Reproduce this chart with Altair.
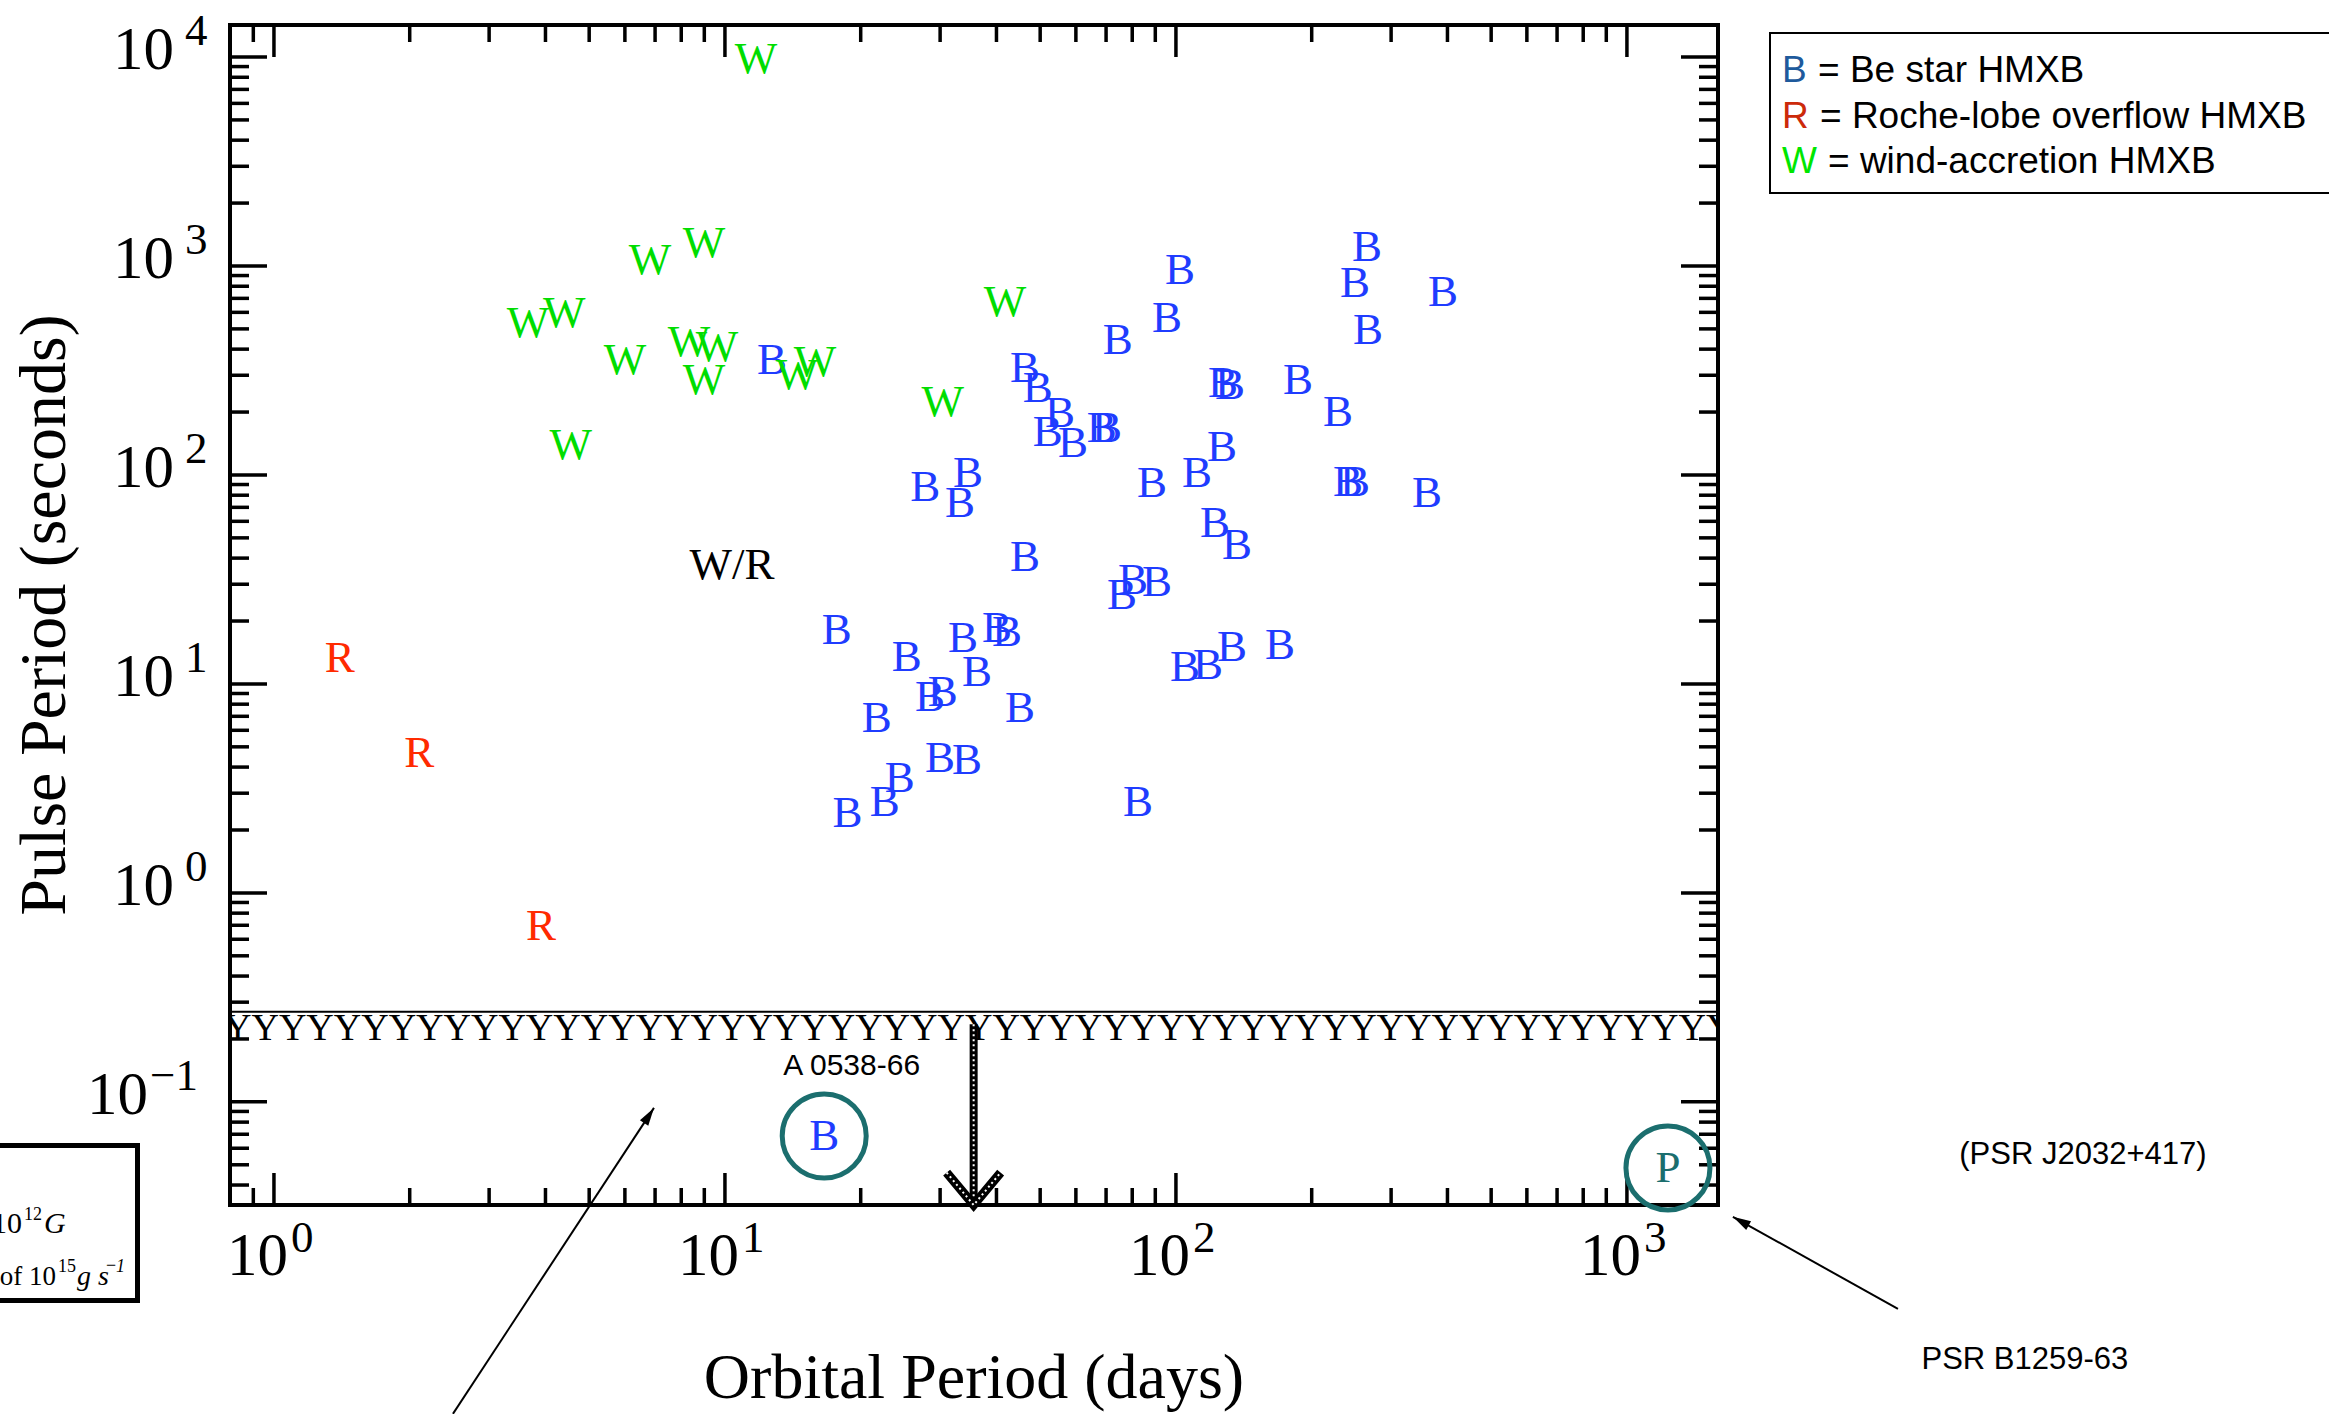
import altair as alt
import pandas as pd

# ---------------- data ----------------
be_orbit = [12.71, 102.1, 95.5, 74.3, 46.3, 49.4, 55.3, 52.0, 59.1, 68.5, 70.3,
            127.1, 131.8, 126.5, 111.3, 88.5, 27.8, 34.6, 33.2, 265.2, 249.4,
            390.8, 266.6, 186.4, 228.7, 240.6, 249.4, 360.3, 46.3, 122.0, 136.6,
            75.9, 80.3, 90.8, 17.7, 25.3, 33.7, 40.1, 42.2, 36.2, 28.5, 30.4,
            45.1, 21.7, 30.0, 34.4, 24.4, 22.6, 18.7, 82.4, 104.7, 117.8, 133.1, 170.1]
be_pulse = [354.9, 957, 564, 442, 325, 260.9, 198, 160.6, 142.3, 167.9, 167.9,
            275.5, 269.5, 136.2, 102.2, 91.5, 87.6, 102.2, 73.5, 1233, 829,
            750.9, 494, 284.7, 200.2, 92.6, 92.6, 82.0, 40.5, 58.9, 46.3,
            26.7, 31.4, 30.8, 18.1, 13.5, 16.6, 18.5, 17.7, 11.4, 8.67, 9.16,
            7.68, 6.88, 4.43, 4.33, 3.55, 2.73, 2.41, 2.73, 12.06, 12.33, 15.03, 15.37]
wind_orbit = [11.72, 6.82, 8.98, 3.66, 4.40, 6.00, 8.32, 9.60, 8.98, 4.55, 14.44, 15.83, 41.77, 30.4]
wind_pulse = [9782, 1068, 1288, 533.8, 595.8, 354.9, 432.9, 409.6, 284.7, 139.2, 301, 347.3, 672.7, 223.6]
roche_orbit = [1.40, 2.10, 3.91]
roche_pulse = [13.3, 4.68, 0.695]

special_class = ["B", "P"]
special_orbit = [16.6, 1233]
special_pulse = [0.0687, 0.0483]

label_wr = ["W/R"]
label_wr_orbit = [10.37]
label_wr_pulse = [37.1]

a0538_label = ["A 0538-66"]
a0538_orbit = [19.1]
a0538_pulse = [0.1487]

band_lo = [0.198]
band_hi = [0.27]
limit_orbit = [35.6]
limit_top = [0.235]
limit_bottom = [0.0321]

ann_labels = ["(PSR J2032+417)", "PSR B1259-63"]
ann_orbit = [10258, 7629]
ann_pulse = [0.0558, 0.00583]

arrow1_from = (3990, 0.01022)   # PSR B1259-63 pointer
arrow1_to = (1718, 0.02818)
arrow2_from = (2.494, 0.003215)  # pointer from the lower-left box
arrow2_to = (6.96, 0.0936)

legend_letters = ["B", "R", "W"]
legend_text = ["= Be star HMXB", "= Roche-lobe overflow HMXB", "= wind-accretion HMXB"]

x_decades = [1, 10, 100, 1000]
x_exps = [0, 1, 2, 3]
y_decades = [0.1, 1, 10, 100, 1000, 10000]
y_exps = [-1, 0, 1, 2, 3, 4]

x_minor = [0.9] + [m * 10 ** e for e in range(0, 3) for m in range(2, 10)]
y_minor = [m * 10.0 ** e for e in range(-2, 4) for m in range(2, 10)]
y_minor = [v for v in y_minor if 0.0321 < v < 14230]

# ---------------- layout ----------------
W, H = 1488, 1180
SERIF = "Liberation Serif"
SANS = "Liberation Sans"
classes = ["B", "R", "W", "P"]
class_colors = ["#1f3cff", "#ff2a00", "#00dd00", "#1b6e6e"]
legend_colors = ["#1e5a9c", "#cc2a0a", "#00e600"]

xs = alt.Scale(type="log", domain=[0.799, 1592], nice=False)
ys = alt.Scale(type="log", domain=[0.0321, 14230], nice=False)
cs = alt.Scale(domain=classes, range=class_colors)


def X(f):
    return alt.X(f, type="quantitative", scale=xs, axis=None)


def Y(f):
    return alt.Y(f, type="quantitative", scale=ys, axis=None)


one = pd.DataFrame({"k": [0]})
layers = []

# hatched band
band_df = pd.DataFrame({"lo": band_lo, "hi": band_hi})
layers.append(alt.Chart(band_df).mark_rule(color="black", strokeWidth=2).encode(
    x=alt.value(0), x2=alt.value(W), y=Y("hi")))
layers.append(alt.Chart(band_df).mark_text(
    font=SERIF, fontSize=38, align="left", baseline="alphabetic", clip=True, color="black"
).encode(x=alt.value(-6), y=Y("lo"), text=alt.value("Y" * 80)))

# ticks
xmaj = pd.DataFrame({"v": x_decades})
xmin = pd.DataFrame({"v": x_minor})
ymaj = pd.DataFrame({"v": y_decades})
ymin = pd.DataFrame({"v": y_minor})
tk = dict(color="black", strokeWidth=3.5)
for df, ln in [(xmaj, 32), (xmin, 17)]:
    layers.append(alt.Chart(df).mark_rule(**tk).encode(x=X("v"), y=alt.value(H), y2=alt.value(H - ln)))
    layers.append(alt.Chart(df).mark_rule(**tk).encode(x=X("v"), y=alt.value(0), y2=alt.value(ln)))
for df, ln in [(ymaj, 37), (ymin, 19)]:
    layers.append(alt.Chart(df).mark_rule(**tk).encode(y=Y("v"), x=alt.value(0), x2=alt.value(ln)))
    layers.append(alt.Chart(df).mark_rule(**tk).encode(y=Y("v"), x=alt.value(W), x2=alt.value(W - ln)))

# tick labels
xlab = pd.DataFrame({"v": x_decades, "n": x_exps})
layers.append(alt.Chart(xlab).mark_text(font=SERIF, fontSize=61, align="right", baseline="middle", dx=14).encode(
    x=X("v"), y=alt.value(1232), text=alt.value("10")))
layers.append(alt.Chart(xlab).transform_calculate(e="''+datum.n").mark_text(
    font=SERIF, fontSize=45, align="left", baseline="middle", dx=17).encode(
    x=X("v"), y=alt.value(1213), text="e:N"))
ylab = pd.DataFrame({"v": y_decades, "n": y_exps})
ypos = alt.Chart(ylab).transform_filter("datum.n >= 0")
yneg = alt.Chart(ylab).transform_filter("datum.n < 0")
for base, x10, xe in [(ypos, -56, -45), (yneg, -82, -80)]:
    layers.append(base.mark_text(font=SERIF, fontSize=61, align="right", baseline="middle", dy=-6).encode(
        x=alt.value(x10), y=Y("v"), text=alt.value("10")))
    layers.append(base.transform_calculate(e="replace(''+datum.n, '-', '\u2212')").mark_text(
        font=SERIF, fontSize=45, align="left", baseline="middle", dy=-26).encode(
        x=alt.value(xe), y=Y("v"), text="e:N"))

# axis titles
layers.append(alt.Chart(one).mark_text(font=SERIF, fontSize=64, align="center", baseline="middle",
                                       text="Orbital Period (days)").encode(x=alt.value(744), y=alt.value(1354)))
layers.append(alt.Chart(one).mark_text(font=SERIF, fontSize=66, align="center", baseline="middle", angle=270,
                                       text="Pulse Period (seconds)").encode(x=alt.value(-185), y=alt.value(590)))

# upper-limit arrow
lim = pd.DataFrame({"x": limit_orbit, "y1": limit_top, "y2": limit_bottom})
layers.append(alt.Chart(lim).mark_rule(color="black", strokeWidth=8).encode(x=X("x"), y=Y("y1"), y2=alt.Y2("y2")))
layers.append(alt.Chart(lim).mark_rule(color="white", strokeWidth=2, strokeDash=[2, 3]).encode(
    x=X("x"), y=Y("y1"), y2=alt.Y2("y2")))
layers.append(alt.Chart(lim).mark_point(shape="M-1,-1.2L0,0L1,-1.2", size=2916, filled=False, stroke="black",
                                        strokeWidth=9, opacity=1).encode(x=X("x"), y=Y("y2")))
layers.append(alt.Chart(lim).mark_point(shape="M-1,-1.2L0,0L1,-1.2", size=2916, filled=False, stroke="white",
                                        strokeWidth=2, strokeDash=[2, 3], opacity=1).encode(x=X("x"), y=Y("y2")))

# circled special systems
spec = pd.DataFrame({"orbit": special_orbit, "pulse": special_pulse, "cls": special_class})
layers.append(alt.Chart(spec).mark_point(shape="circle", size=7056, filled=False, stroke="#1b6e6e",
                                         strokeWidth=5, opacity=1).encode(x=X("orbit"), y=Y("pulse")))

# letters
pts = pd.DataFrame({
    "orbit": be_orbit + wind_orbit + roche_orbit + special_orbit,
    "pulse": be_pulse + wind_pulse + roche_pulse + special_pulse,
    "cls": ["B"] * len(be_orbit) + ["W"] * len(wind_orbit) + ["R"] * len(roche_orbit) + special_class,
})
layers.append(alt.Chart(pts).mark_text(font=SERIF, fontSize=45, align="center", baseline="middle").encode(
    x=X("orbit"), y=Y("pulse"), text="cls:N", color=alt.Color("cls:N", scale=cs, legend=None)))

wr = pd.DataFrame({"orbit": label_wr_orbit, "pulse": label_wr_pulse, "t": label_wr})
layers.append(alt.Chart(wr).mark_text(font=SERIF, fontSize=45, color="black", baseline="middle").encode(
    x=X("orbit"), y=Y("pulse"), text="t:N"))
a05 = pd.DataFrame({"orbit": a0538_orbit, "pulse": a0538_pulse, "t": a0538_label})
layers.append(alt.Chart(a05).mark_text(font=SANS, fontSize=30, color="black", baseline="middle").encode(
    x=X("orbit"), y=Y("pulse"), text="t:N"))

# annotations outside the frame
ann = pd.DataFrame({"orbit": ann_orbit, "pulse": ann_pulse, "t": ann_labels})
layers.append(alt.Chart(ann).mark_text(font=SANS, fontSize=31, color="black", baseline="middle").encode(
    x=X("orbit"), y=Y("pulse"), text="t:N"))
for (fx, fy), (tx, ty), ang in [(arrow1_from, arrow1_to, 299.2), (arrow2_from, arrow2_to, 33.3)]:
    adf = pd.DataFrame({"x": [fx], "y": [fy], "x2": [tx], "y2": [ty]})
    layers.append(alt.Chart(adf).mark_rule(color="black", strokeWidth=2).encode(
        x=X("x"), y=Y("y"), x2=alt.X2("x2"), y2=alt.Y2("y2")))
    layers.append(alt.Chart(adf).mark_point(shape="M0,0L0.5,1.8L-0.5,1.8Z", size=400, filled=True,
                                            color="black", opacity=1, angle=ang).encode(x=X("x2"), y=Y("y2")))

# legend box
layers.append(alt.Chart(one).mark_rect(fill="white", fillOpacity=0, stroke="black", strokeWidth=2).encode(
    x=alt.value(1540), x2=alt.value(2110), y=alt.value(8), y2=alt.value(168)))
desc_x = [1588, 1590, 1598]
for i, (ltr, txt, col) in enumerate(zip(legend_letters, legend_text, legend_colors)):
    yb = 57 + 45.5 * i
    layers.append(alt.Chart(one).mark_text(font=SANS, fontSize=37, align="left", baseline="alphabetic",
                                           color=col, text=ltr).encode(x=alt.value(1552), y=alt.value(yb)))
    layers.append(alt.Chart(one).mark_text(font=SANS, fontSize=37, align="left", baseline="alphabetic",
                                           color="black", text=txt).encode(x=alt.value(desc_x[i]), y=alt.value(yb)))

# partially visible box at lower left (its left part lies outside the picture)
layers.append(alt.Chart(one).mark_rect(fill="white", fillOpacity=0, stroke="black", strokeWidth=5).encode(
    x=alt.value(-245), x2=alt.value(-92.5), y=alt.value(1120.5), y2=alt.value(1275.5)))
box_pieces = [
    # text, x (px), baseline y (px), align, size, style
    ("B \u2248 10", -208, 1208, "right", 30, "normal"),
    ("12", -206, 1195, "left", 18, "normal"),
    ("G", -186, 1208, "left", 30, "italic"),
    ("for accretion rates of 10", -174, 1260, "right", 27, "normal"),
    ("15", -172, 1247, "left", 18, "normal"),
    ("g s", -153, 1260, "left", 28, "italic"),
    ("\u2212", -124, 1246, "left", 18, "normal"),
    ("1", -114, 1247, "left", 18, "italic"),
]
for txt, xp, yb, al, fs, st in box_pieces:
    layers.append(alt.Chart(one).mark_text(font=SERIF, fontSize=fs, align=al, baseline="alphabetic",
                                           fontStyle=st, color="black", text=txt).encode(
        x=alt.value(xp), y=alt.value(yb)))

chart = alt.layer(*layers).properties(
    width=W, height=H,
    autosize=alt.AutoSizeParams(type="none"),
    padding={"left": 230, "top": 25, "right": 611, "bottom": 209},
    background="white",
).configure_view(stroke="black", strokeWidth=4)

chart.save("out.html", embed_options={"renderer": "svg", "actions": False})
